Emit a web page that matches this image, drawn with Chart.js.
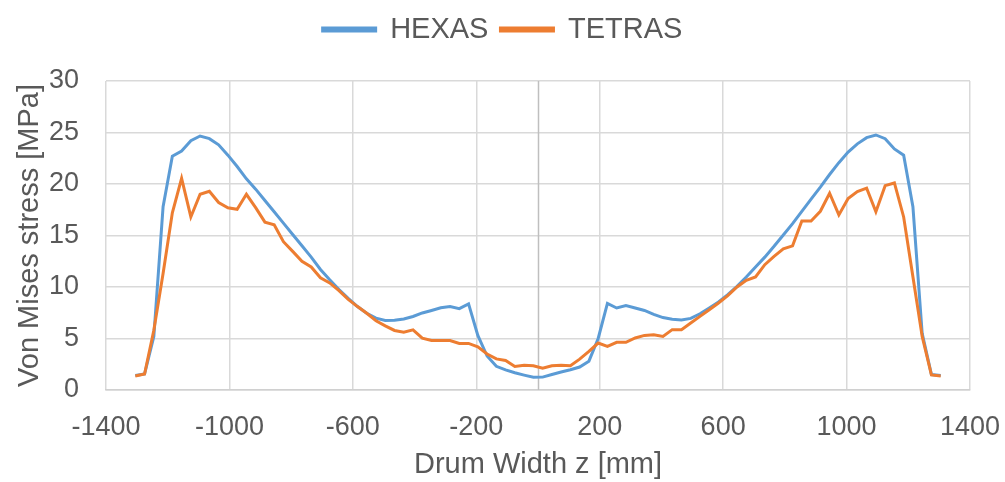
<!DOCTYPE html>
<html>
<head>
<meta charset="utf-8">
<script src="https://cdn.jsdelivr.net/npm/chart.js@4.4.1/dist/chart.umd.min.js"></script>
<style>
  html, body { margin: 0; padding: 0; background: #fff; }
  #grafico { display: block; }
</style>
</head>
<body>
<canvas id="grafico" width="1005" height="482"></canvas>
<script>
const grafico = document.getElementById("grafico");

// POSICIONES EN EL ANCHO DEL TAMBOR [mm]
const posiciones = [
  -1305, -1275, -1245, -1215, -1185, -1155, -1125, -1095, -1065, -1035,
  -1005, -975, -945, -915, -885, -855, -825, -795, -765, -735,
  -705, -675, -645, -615, -585, -555, -525, -495, -465, -435,
  -405, -375, -345, -315, -285, -255, -225, -195, -165, -135,
  -105, -75, -45, -15, 15, 45, 75, 105, 135, 165,
  195, 225, 255, 285, 315, 345, 375, 405, 435, 465,
  495, 525, 555, 585, 615, 645, 675, 705, 735, 765,
  795, 825, 855, 885, 915, 945, 975, 1005, 1035, 1065,
  1095, 1125, 1155, 1185, 1215, 1245, 1275, 1305
];

// TENSION VON MISES [MPa]
const hexas = [
  1.4, 1.55, 5.2, 17.8, 22.7, 23.2, 24.2, 24.66, 24.4, 23.8,
  22.8, 21.7, 20.5, 19.5, 18.4, 17.3, 16.2, 15.1, 14.0, 12.9,
  11.7, 10.7, 9.75, 8.9, 8.1, 7.45, 6.98, 6.75, 6.77, 6.9,
  7.14, 7.48, 7.72, 7.98, 8.1, 7.9, 8.36, 5.3, 3.3, 2.3,
  1.96, 1.67, 1.44, 1.23, 1.25, 1.5, 1.75, 1.97, 2.23, 2.8,
  5.0, 8.4, 7.96, 8.2, 7.96, 7.72, 7.35, 7.03, 6.87, 6.8,
  6.95, 7.4, 7.96, 8.54, 9.25, 10.06, 10.97, 11.94, 12.9, 13.95,
  15.05, 16.15, 17.35, 18.54, 19.7, 20.92, 22.07, 23.1, 23.9, 24.5,
  24.76, 24.4, 23.4, 22.8, 17.8, 5.5, 1.5, 1.4
];

const tetras = [
  1.36, 1.55, 5.8, 11.3, 17.2, 20.55, 16.8, 19.0, 19.3, 18.2,
  17.7, 17.55, 19.0, 17.7, 16.3, 16.05, 14.4, 13.46, 12.5, 11.94,
  10.9, 10.4, 9.65, 8.8, 8.1, 7.45, 6.72, 6.23, 5.78, 5.6,
  5.84, 5.04, 4.8, 4.8, 4.8, 4.52, 4.52, 4.2, 3.5, 3.02,
  2.86, 2.28, 2.4, 2.36, 2.12, 2.36, 2.4, 2.36, 3.0, 3.75,
  4.56, 4.24, 4.63, 4.63, 5.05, 5.3, 5.37, 5.2, 5.86, 5.86,
  6.5, 7.15, 7.8, 8.45, 9.16, 10.0, 10.65, 10.97, 12.17, 12.98,
  13.7, 14.0, 16.4, 16.4, 17.35, 19.1, 17.0, 18.6, 19.26, 19.6,
  17.3, 19.84, 20.1, 16.8, 11.0, 5.2, 1.46, 1.36
];

const series = ["HEXAS", "TETRAS"];
const colores = ["#5B9BD5", "#ED7D31"];

const puntos = (valores) => posiciones.map((x, i) => ({ x: x, y: valores[i] }));

// LINEA VERTICAL EN z = 0 (EJE DE VALORES DE EXCEL)
const ejeCero = {
  id: "ejeCero",
  beforeDatasetsDraw(chart) {
    const { ctx, chartArea, scales } = chart;
    const px = Math.round(scales.x.getPixelForValue(0)) + 0.5;
    ctx.save();
    ctx.strokeStyle = "#bfbfbf";
    ctx.lineWidth = 1.5;
    ctx.beginPath();
    ctx.moveTo(px, chartArea.top);
    ctx.lineTo(px, chartArea.bottom);
    ctx.stroke();
    ctx.restore();
  },
};

// ALTO FIJO DE LA LEYENDA PARA DEJAR EL AREA DEL GRAFICO EN SU SITIO
const altoLeyenda = {
  id: "altoLeyenda",
  beforeInit(chart) {
    const fitOriginal = chart.legend.fit;
    chart.legend.fit = function () {
      fitOriginal.bind(chart.legend)();
      this.height = 78;
    };
  },
};

Chart.defaults.font.family = "'Liberation Sans', Arial, sans-serif";
Chart.defaults.color = "#595959";

new Chart(grafico, {
  type: "line",
  data: {
    datasets: [
      {
        label: series[0],
        data: puntos(hexas),
        borderColor: colores[0],
        backgroundColor: colores[0],
        borderWidth: 3,
        pointRadius: 0,
        tension: 0,
        fill: false,
        order: 1,
      },
      {
        label: series[1],
        data: puntos(tetras),
        borderColor: colores[1],
        backgroundColor: colores[1],
        borderWidth: 3,
        pointRadius: 0,
        tension: 0,
        fill: false,
        order: 0,
      },
    ],
  },
  options: {
    responsive: false,
    animation: false,
    layout: { padding: { top: 3, right: 0, bottom: 0, left: 0 } },
    plugins: {
      tooltip: { enabled: false },
      legend: {
        display: true,
        position: "top",
        labels: {
          boxWidth: 53,
          boxHeight: 3,
          padding: 12,
          font: { size: 29 },
          color: "#595959",
          sort: (a, b) => a.datasetIndex - b.datasetIndex,
        },
      },
    },
    scales: {
      x: {
        type: "linear",
        min: -1400,
        max: 1400,
        ticks: {
          stepSize: 400,
          font: { size: 27 },
          color: "#595959",
          padding: 21,
          callback: (v) => String(v),
        },
        grid: { color: "#d9d9d9", lineWidth: 1.5, drawTicks: false },
        border: { color: "#d0d0d0", width: 1.5 },
        title: {
          display: true,
          text: "Drum Width z [mm]",
          font: { size: 29 },
          color: "#595959",
          padding: { top: 0, bottom: 0 },
        },
        afterFit(scale) {
          scale.height = 92;
          scale.paddingLeft = 0;
          scale.paddingRight = 35;
        },
      },
      y: {
        min: 0,
        max: 30,
        ticks: {
          stepSize: 5,
          font: { size: 27 },
          color: "#595959",
          padding: 27,
          callback: (v) => String(v),
        },
        grid: { color: "#d9d9d9", lineWidth: 1.5, drawTicks: false },
        border: { display: false },
        title: {
          display: true,
          text: "Von Mises stress [MPa]",
          font: { size: 29 },
          color: "#595959",
          padding: { top: 13, bottom: 13 },
        },
        afterFit(scale) {
          scale.width = 106;
          scale.paddingTop = 0;
          scale.paddingBottom = 0;
        },
      },
    },
  },
  plugins: [ejeCero, altoLeyenda],
});
</script>
</body>
</html>
